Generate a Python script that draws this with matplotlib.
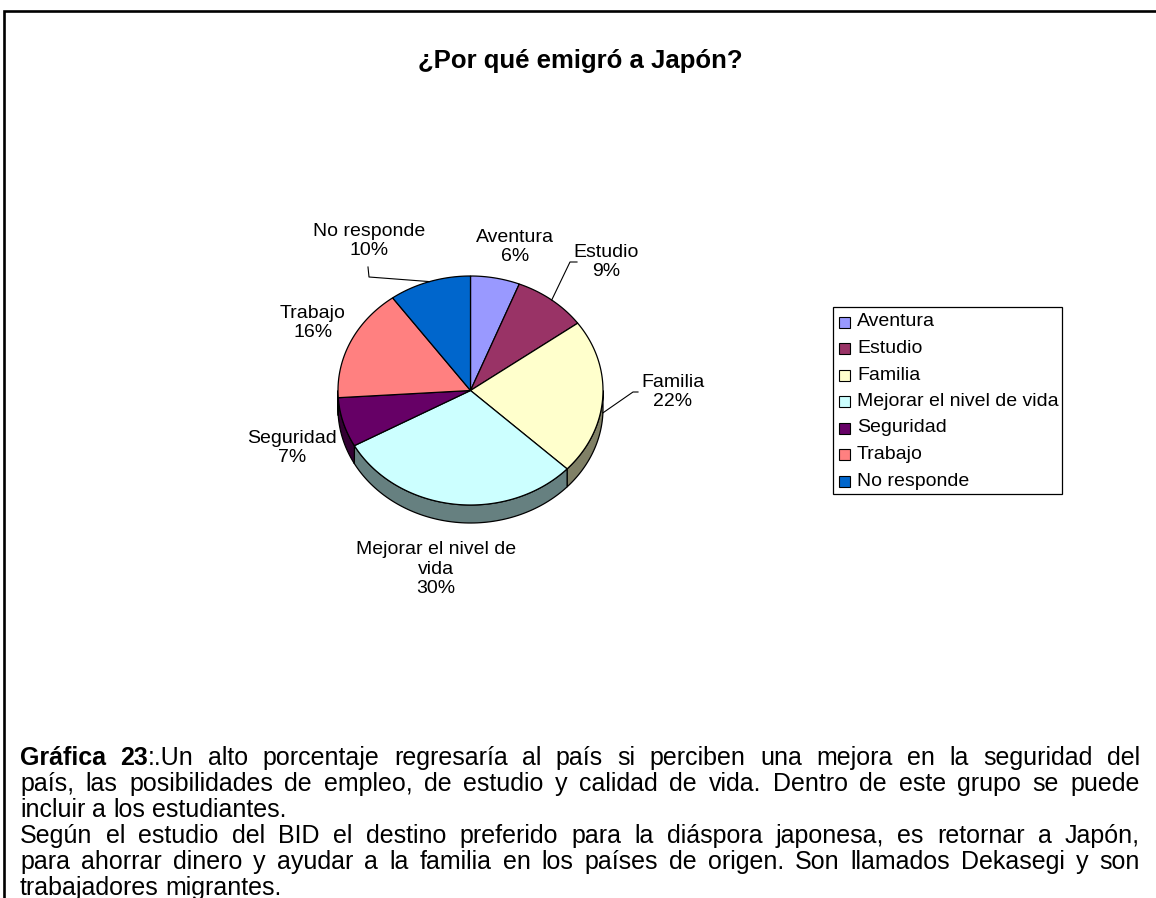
import numpy as np
import matplotlib
matplotlib.use("Agg")
import matplotlib.pyplot as plt
from matplotlib.patches import Polygon, Rectangle
from matplotlib.colors import to_rgb

plt.rcParams['font.family'] = ['Liberation Sans', 'DejaVu Sans']

# Data
title = "¿Por qué emigró a Japón?"
categories = ["Aventura", "Estudio", "Familia", "Mejorar el nivel de vida",
              "Seguridad", "Trabajo", "No responde"]
values = [6, 9, 22, 30, 7, 16, 10]
colors = ["#9999FF", "#993366", "#FFFFCC", "#CCFFFF", "#660066", "#FF8080", "#0066CC"]
slice_labels = ["Aventura\n6%", "Estudio\n9%", "Familia\n22%",
                "Mejorar el nivel de\nvida\n30%", "Seguridad\n7%",
                "Trabajo\n16%", "No responde\n10%"]

caption_lines = [
    "**Gráfica** **23**:.Un alto porcentaje regresaría al país si perciben una mejora en la seguridad del",
    "país, las posibilidades de empleo, de estudio y calidad de vida. Dentro de este grupo se puede",
    "incluir a los estudiantes.",
    "Según el estudio del BID el destino preferido para la diáspora japonesa, es retornar a Japón,",
    "para ahorrar dinero y ayudar a la familia en los países de origen. Son llamados Dekasegi y son",
    "trabajadores migrantes.",
]
justify = [True, True, False, True, True, False]

# Layout (pixels)
W, H = 1156, 898
cx, cy, rx, ry, depth = 470.5, 390.5, 132.5, 114.5, 18
label_pos = [(515, 247), (606, 262), (673, 392), (436, 569),
             (292, 448), (313, 323), (369, 241)]
# leader line starting points (None = no leader)
leader_start = [None, [(577, 262), (570, 262)], [(638, 392), (633, 392)], None,
                None, None, [(368, 267), (369, 277)]]
FS = 14
CAP_FS = 18

fig = plt.figure(figsize=(W / 100, H / 100), dpi=100)
ax = fig.add_axes([0, 0, 1, 1])
ax.set_xlim(0, W)
ax.set_ylim(H, 0)
ax.axis('off')

# frame
ax.plot([4, 4, W + 5], [H + 5, 11, 11], color='black', lw=1.9, solid_joinstyle='miter')

ax.text(580, 68, title, ha='center', va='baseline', fontsize=18.5, fontweight='bold')

# 3D pie
edges = np.concatenate([[0], np.cumsum(values)]) / np.sum(values) * 2 * np.pi


def ex(t):
    return cx + rx * np.sin(t)


def ey(t):
    return cy - ry * np.cos(t)


for i, v in enumerate(values):
    a0, a1 = edges[i], edges[i + 1]
    lo, hi = max(a0, np.pi / 2), min(a1, 3 * np.pi / 2)
    if lo < hi:
        t = np.linspace(lo, hi, 80)
        top = np.column_stack([ex(t), ey(t)])
        bot = np.column_stack([ex(t), ey(t) + depth])[::-1]
        side_c = tuple(c * 0.5 for c in to_rgb(colors[i]))
        ax.add_patch(Polygon(np.vstack([top, bot]), closed=True, facecolor=side_c,
                             edgecolor='black', lw=0.9, zorder=2))

for i, v in enumerate(values):
    a0, a1 = edges[i], edges[i + 1]
    t = np.linspace(a0, a1, 120)
    pts = np.vstack([[cx, cy], np.column_stack([ex(t), ey(t)])])
    ax.add_patch(Polygon(pts, closed=True, facecolor=colors[i],
                         edgecolor='black', lw=0.9, zorder=3))

for i, lab in enumerate(slice_labels):
    ax.text(label_pos[i][0], label_pos[i][1], lab, ha='center', va='center',
            fontsize=FS, linespacing=1.2, zorder=4)
    if leader_start[i] is not None:
        mid = (edges[i] + edges[i + 1]) / 2
        ey_mid = ey(mid) + (depth * 0.85 if np.cos(mid) < 0 else 0)
        xs = [p[0] for p in leader_start[i]] + [ex(mid)]
        ys = [p[1] for p in leader_start[i]] + [ey_mid]
        ax.plot(xs, ys, color='black', lw=0.8, zorder=4)

# legend
ax.add_patch(Rectangle((833, 307), 229, 187, facecolor='white', edgecolor='black',
                       lw=0.9, zorder=2))
for i, name in enumerate(categories):
    yy = 322 + i * 26.5
    ax.add_patch(Rectangle((839, yy - 5.5), 11, 11, facecolor=colors[i],
                           edgecolor='black', lw=0.8, zorder=3))
    ax.text(857, yy, name, ha='left', va='center', fontsize=FS, zorder=3)

# caption with justified lines
renderer = fig.canvas.get_renderer()
x_left, x_right = 20, 1140
sp = ax.text(0, 0, "x x", fontsize=CAP_FS)
sp2 = ax.text(0, 0, "xx", fontsize=CAP_FS)
space_w = (sp.get_window_extent(renderer).width - sp2.get_window_extent(renderer).width)
sp.remove()
sp2.remove()

for k, line in enumerate(caption_lines):
    base = 765 + 26 * k
    words = []
    for w in line.split(' '):
        segs = w.split('**')
        objs = []
        for j, s in enumerate(segs):
            if not s:
                continue
            txt = ax.text(0, base, s, fontsize=CAP_FS, va='baseline', ha='left',
                          fontweight='bold' if j % 2 == 1 else 'normal')
            objs.append(txt)
        widths = [o.get_window_extent(renderer).width for o in objs]
        words.append((objs, widths))
    total = sum(sum(w) for _, w in words)
    if justify[k] and len(words) > 1:
        gap = (x_right - x_left - total) / (len(words) - 1)
    else:
        gap = space_w
    x = x_left
    for objs, widths in words:
        for o, wd in zip(objs, widths):
            o.set_x(x)
            x += wd
        x += gap

fig.savefig("out.png", dpi=100, facecolor='white')
